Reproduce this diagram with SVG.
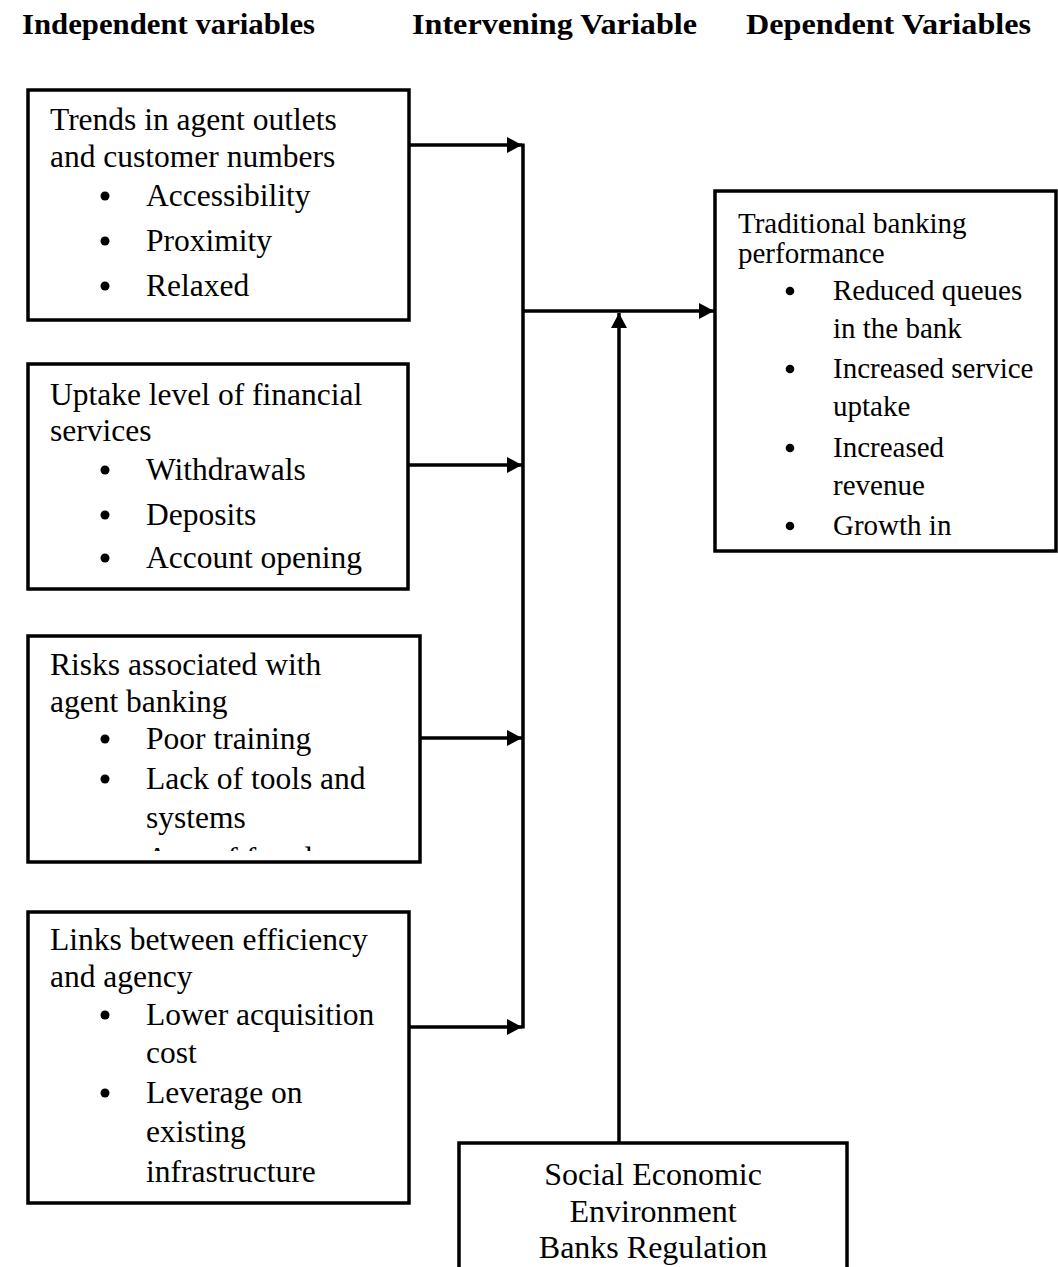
<svg xmlns="http://www.w3.org/2000/svg" width="1058" height="1267" viewBox="0 0 1058 1267">
<style>
text{font-family:"Liberation Serif","Times New Roman",serif;fill:#000}
.hd{font-size:30px;font-weight:bold}
.l{font-size:31.5px}
.r{font-size:29px}
.b{font-size:32px;text-anchor:middle}
.box{fill:#fff;stroke:#000;stroke-width:3.5}
.ln{fill:none;stroke:#000;stroke-width:3.5}
.dot{fill:#000}
</style>
<defs>
<marker id="ah" markerUnits="userSpaceOnUse" markerWidth="16" markerHeight="18" refX="15" refY="8" orient="auto">
<path d="M0,0 L15,8 L0,16 Z" fill="#000"/>
</marker>
<clipPath id="c3"><rect x="28" y="630" width="390" height="221"/></clipPath>
</defs>
<rect width="1058" height="1267" fill="#fff"/>
<g id="headers">
<text class="hd" x="22" y="34" textLength="293" lengthAdjust="spacingAndGlyphs">Independent variables</text>
<text class="hd" x="412" y="34" textLength="285" lengthAdjust="spacingAndGlyphs">Intervening Variable</text>
<text class="hd" x="746" y="34" textLength="285" lengthAdjust="spacingAndGlyphs">Dependent Variables</text>
</g>
<g id="connectors">
<line class="ln" x1="409" y1="145" x2="522" y2="145" marker-end="url(#ah)"/>
<line class="ln" x1="408" y1="465" x2="522" y2="465" marker-end="url(#ah)"/>
<line class="ln" x1="420" y1="738" x2="522" y2="738" marker-end="url(#ah)"/>
<line class="ln" x1="409" y1="1027" x2="522" y2="1027" marker-end="url(#ah)"/>
<line class="ln" x1="523" y1="143.5" x2="523" y2="1028.5"/>
<line class="ln" x1="523" y1="311" x2="714" y2="311" marker-end="url(#ah)"/>
<line class="ln" x1="619" y1="1143" x2="619" y2="313" marker-end="url(#ah)"/>
</g>
<g id="node1">
<rect class="box" x="28" y="90" width="381" height="230"/>
<text class="l" x="50" y="130">Trends in agent outlets</text>
<text class="l" x="50" y="167">and customer numbers</text>
<circle class="dot" cx="105" cy="196" r="4.5"/><text class="l" x="146" y="206">Accessibility</text>
<circle class="dot" cx="105" cy="241" r="4.5"/><text class="l" x="146" y="251">Proximity</text>
<circle class="dot" cx="105" cy="286" r="4.5"/><text class="l" x="146" y="296">Relaxed</text>
</g>
<g id="node2">
<rect class="box" x="28" y="364" width="380" height="225"/>
<text class="l" x="50" y="405">Uptake level of financial</text>
<text class="l" x="50" y="441">services</text>
<circle class="dot" cx="105" cy="470" r="4.5"/><text class="l" x="146" y="480">Withdrawals</text>
<circle class="dot" cx="105" cy="515" r="4.5"/><text class="l" x="146" y="525">Deposits</text>
<circle class="dot" cx="105" cy="558" r="4.5"/><text class="l" x="146" y="568">Account opening</text>
</g>
<g id="node3">
<rect class="box" x="28" y="636" width="392" height="226"/>
<text class="l" x="50" y="675">Risks associated with</text>
<text class="l" x="50" y="712">agent banking</text>
<circle class="dot" cx="105" cy="739" r="4.5"/><text class="l" x="146" y="749">Poor training</text>
<circle class="dot" cx="105" cy="779" r="4.5"/><text class="l" x="146" y="789">Lack of tools and</text>
<text class="l" x="146" y="828">systems</text>
<g clip-path="url(#c3)"><text class="l" x="146" y="869">Acts of fraud</text></g>
</g>
<g id="node4">
<rect class="box" x="28" y="912" width="381" height="291"/>
<text class="l" x="50" y="950">Links between efficiency</text>
<text class="l" x="50" y="987">and agency</text>
<circle class="dot" cx="105" cy="1015" r="4.5"/><text class="l" x="146" y="1025">Lower acquisition</text>
<text class="l" x="146" y="1063">cost</text>
<circle class="dot" cx="105" cy="1093" r="4.5"/><text class="l" x="146" y="1103">Leverage on</text>
<text class="l" x="146" y="1142">existing</text>
<text class="l" x="146" y="1182">infrastructure</text>
</g>
<g id="node5">
<rect class="box" x="715" y="191" width="341" height="360"/>
<text class="r" x="738" y="233">Traditional banking</text>
<text class="r" x="738" y="263">performance</text>
<circle class="dot" cx="790" cy="291" r="4.3"/><text class="r" x="833" y="300">Reduced queues</text>
<text class="r" x="833" y="338">in the bank</text>
<circle class="dot" cx="790" cy="369" r="4.3"/><text class="r" x="833" y="378">Increased service</text>
<text class="r" x="833" y="416">uptake</text>
<circle class="dot" cx="790" cy="448" r="4.3"/><text class="r" x="833" y="457">Increased</text>
<text class="r" x="833" y="495">revenue</text>
<circle class="dot" cx="790" cy="526" r="4.3"/><text class="r" x="833" y="535">Growth in</text>
</g>
<g id="node6">
<rect class="box" x="459" y="1143" width="388" height="200"/>
<text class="b" x="653" y="1185">Social Economic</text>
<text class="b" x="653" y="1222">Environment</text>
<text class="b" x="653" y="1258">Banks Regulation</text>
</g>
</svg>
